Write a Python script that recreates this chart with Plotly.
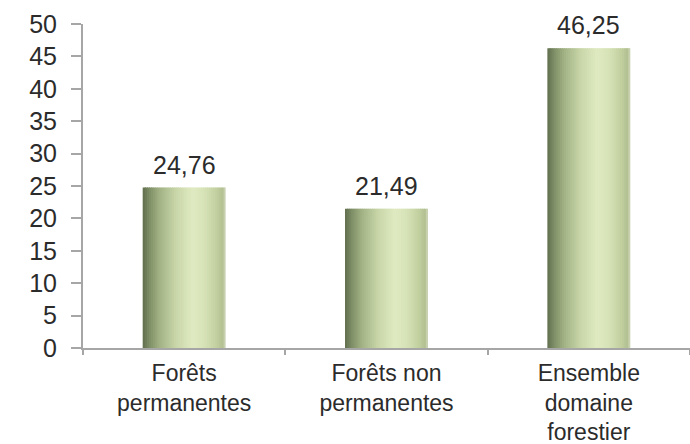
import plotly.graph_objects as go

categories = ["Forêts<br>permanentes", "Forêts non<br>permanentes", "Ensemble<br>domaine<br>forestier"]
values = [24.76, 21.49, 46.25]
y_ticks = [0, 5, 10, 15, 20, 25, 30, 35, 40, 45, 50]

# horizontal gradient for the bars (fraction across bar -> rgb)
grad = [
    (0.00, (96, 110, 78)),
    (0.08, (126, 142, 102)),
    (0.20, (162, 178, 132)),
    (0.40, (200, 214, 168)),
    (0.60, (224, 234, 194)),
    (0.75, (214, 226, 182)),
    (0.90, (192, 206, 158)),
    (0.97, (178, 191, 145)),
    (1.00, (214, 222, 196)),
]

def color_at(t):
    for (t0, c0), (t1, c1) in zip(grad[:-1], grad[1:]):
        if t0 <= t <= t1:
            f = 0 if t1 == t0 else (t - t0) / (t1 - t0)
            return "rgb(%d,%d,%d)" % tuple(round(a + (b - a) * f) for a, b in zip(c0, c1))
    return "rgb(%d,%d,%d)" % grad[-1][1]

BAR_W = 0.41
N = 40
step = BAR_W / N

fig = go.Figure()
for k in range(N):
    t = (k + 0.5) / N
    fig.add_trace(go.Bar(
        x=categories, y=values,
        width=step * 1.6 if k < N - 1 else step,
        offset=-BAR_W / 2 + k * step,
        marker=dict(color=color_at(t), line=dict(width=0)),
        showlegend=False, hoverinfo="skip" if k else "y",
    ))

for c, v in zip(categories, values):
    fig.add_annotation(
        x=c, y=v, text=f"{v:.2f}".replace(".", ","),
        showarrow=False, yanchor="bottom", yshift=7,
        font=dict(size=25, color="#2b2b2b"),
    )

fig.update_layout(
    width=690, height=444,
    margin=dict(l=83, r=0, t=24, b=96),
    paper_bgcolor="white", plot_bgcolor="white",
    barmode="overlay",
    font=dict(family="Liberation Sans, Arial, sans-serif", size=25, color="#2b2b2b"),
    showlegend=False,
)
fig.update_xaxes(
    automargin=False,
    showline=True, linecolor="#a6a6a6", linewidth=2,
    ticks="outside", tickson="boundaries", ticklen=5, tickcolor="#a6a6a6", tickwidth=2,
    showgrid=False, range=[-0.5, 2.5], ticklabelstandoff=3,
    tickfont=dict(size=23, color="#2b2b2b"),
)
fig.update_yaxes(
    automargin=False,
    range=[0, 50], tickvals=y_ticks, showline=True, linecolor="#a6a6a6", linewidth=2,
    ticks="outside", ticklen=10, tickcolor="#a6a6a6", tickwidth=2,
    showgrid=False, zeroline=False, ticklabelstandoff=9,
    tickfont=dict(size=25, color="#2b2b2b"),
)

fig.write_html("out.html", config={"displayModeBar": False},
               post_script="document.body.style.margin='0px';")
